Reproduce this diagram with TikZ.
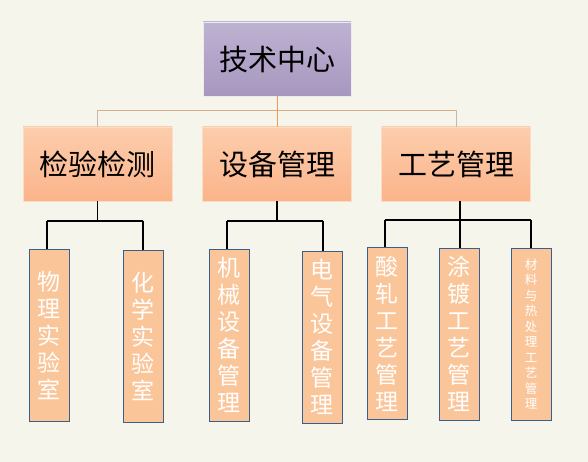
\documentclass[tikz,border=0pt]{standalone}
\usepackage{fontspec}
\newfontfamily\cjk{Noto Sans CJK SC}
\definecolor{bgc}{HTML}{F5F5EB}
\definecolor{toptop}{HTML}{BEB2D2}
\definecolor{topbot}{HTML}{A797BF}
\definecolor{midtop}{HTML}{FCCDAC}
\definecolor{midbot}{HTML}{FBB48A}
\definecolor{leaffill}{HTML}{FBC59A}
\definecolor{leafedge}{HTML}{3A5F8E}
\definecolor{orangeline}{HTML}{F59A52}
\definecolor{grayline}{HTML}{C8B8A8}
\tikzset{
  topbox/.style={draw=white!85!gray, line width=0.8pt, top color=toptop, bottom color=topbot, minimum width=148pt, minimum height=74pt, inner sep=0pt, font=\cjk\fontsize{29}{30}\selectfont},
  midbox/.style={draw=midtop!70!white, line width=0.8pt, top color=midtop, bottom color=midbot, minimum width=149pt, minimum height=74pt, inner sep=0pt, font=\cjk\fontsize{29}{30}\selectfont},
  leafbox/.style={draw=leafedge, line width=1pt, fill=leaffill, minimum width=40pt, minimum height=172pt, inner sep=0pt, text=white, align=center, font=\cjk\fontsize{23}{27}\selectfont},
  leafsmall/.style={leafbox, font=\cjk\fontsize{12.5}{15.5}\selectfont},
  conn/.style={draw=black, line width=1.2pt},
  topconn/.style={draw=orangeline, line width=1pt},
}
\begin{document}
\begin{tikzpicture}[x=1pt,y=-1pt]
\fill[bgc] (0,0) rectangle (588,462);
\useasboundingbox (0,0) rectangle (588,462);
% top
\node[topbox] (top) at (277,59) {技术中心};
% level 2
\node[midbox] (m1) at (97.5,164) {检验检测};
\node[midbox] (m2) at (277,164) {设备管理};
\node[midbox] (m3) at (456,164) {工艺管理};
% top connectors
\coordinate (tj) at (277,110.5);
\coordinate (tl) at (97.5,110.5);
\coordinate (tr) at (456,110.5);
\draw[topconn] (top.south) -- (tj);
\draw[draw=grayline!60!orangeline, line width=1pt] (tl) -- (tr);
\draw[draw=grayline, line width=1pt] (tl) -- (m1.north);
\draw[topconn] (tj) -- (m2.north);
\draw[draw=grayline, line width=1pt] (tr) -- (m3.north);
% leaves
\node[leafbox] (l1) at (49,335) {物\\理\\实\\验\\室};
\node[leafbox] (l2) at (143,336) {化\\学\\实\\验\\室};
\node[leafbox] (l3) at (229,335) {机\\械\\设\\备\\管\\理};
\node[leafbox] (l4) at (322,337) {电\\气\\设\\备\\管\\理};
\node[leafbox] (l5) at (387,333.5) {酸\\轧\\工\\艺\\管\\理};
\node[leafbox] (l6) at (459,334) {涂\\镀\\工\\艺\\管\\理};
\node[leafsmall] (l7) at (531,334) {材\\料\\与\\热\\处\\理\\工\\艺\\管\\理};
% group 1
\coordinate (j1) at (97.5,221);
\coordinate (a1) at (47,221);
\coordinate (b1) at (143,221);
\draw[conn] (m1.south) -- (j1);
\draw[conn] (a1) -- (b1);
\draw[conn] (a1) -- (a1 |- l1.north);
\draw[conn] (b1) -- (l2.north);
% group 2
\coordinate (j2) at (277,221);
\coordinate (a2) at (227,221);
\coordinate (b2) at (323,221);
\draw[conn] (m2.south) -- (j2);
\draw[conn] (a2) -- (b2);
\draw[conn] (a2) -- (a2 |- l3.north);
\draw[conn] (b2) -- (b2 |- l4.north);
% group 3
\coordinate (j3) at (460,220);
\coordinate (a3) at (385,220);
\coordinate (b3) at (531,220);
\draw[conn] (j3 |- m3.south) -- (j3);
\draw[conn] (a3) -- (b3);
\draw[conn] (a3) -- (a3 |- l5.north);
\draw[conn] (j3) -- (j3 |- l6.north);
\draw[conn] (b3) -- (l7.north);
\end{tikzpicture}
\end{document}
